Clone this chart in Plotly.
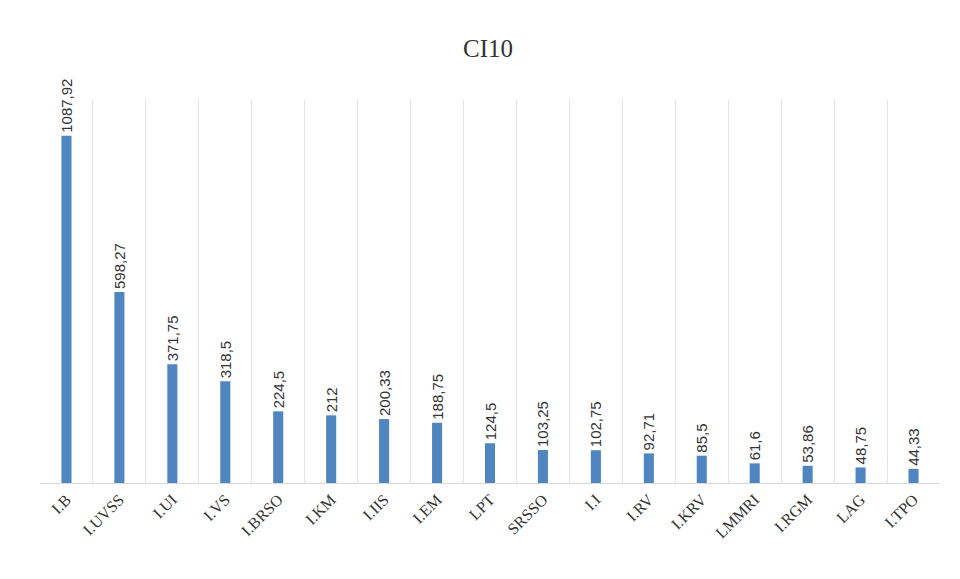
import plotly.graph_objects as go

categories = ["I.B", "I.UVSS", "I.UI", "I.VS", "I.BRSO", "I.KM", "I.IIS", "I.EM", "LPT",
              "SRSSO", "I.I", "I.RV", "I.KRV", "LMMRI", "I.RGM", "LAG", "I.TPO"]
values = [1087.92, 598.27, 371.75, 318.5, 224.5, 212, 200.33, 188.75, 124.5,
          103.25, 102.75, 92.71, 85.5, 61.6, 53.86, 48.75, 44.33]
value_labels = ["1087,92", "598,27", "371,75", "318,5", "224,5", "212", "200,33", "188,75", "124,5",
                "103,25", "102,75", "92,71", "85,5", "61,6", "53,86", "48,75", "44,33"]
title_text = "CI10"

fig = go.Figure(go.Bar(
    x=categories, y=values, width=0.19,
    marker=dict(color="#4F86BF", line=dict(width=0)),
    text=value_labels, textposition="outside", textangle=-90,
    textfont=dict(family="Liberation Sans, Arial", size=15, color="#333333"),
    cliponaxis=False,
))

fig.update_layout(
    width=960, height=579,
    paper_bgcolor="white", plot_bgcolor="white",
    margin=dict(l=32, r=28, t=92, b=104),
    title=dict(text=title_text, x=0.5, xanchor="center", y=0.931, yanchor="middle",
               font=dict(family="Liberation Serif, Times New Roman", size=25, color="#333333")),
    showlegend=False,
    bargap=0.8,
    uniformtext=dict(minsize=15, mode="show"),
)
fig.update_xaxes(
    tickson="boundaries", showgrid=True, gridcolor="#E4E4E4", gridwidth=1,
    ticks="", tickangle=-45,
    tickfont=dict(family="Liberation Serif, Times New Roman", size=16, color="#333333"),
    showline=True, linecolor="#D9D9D9", linewidth=1,
)
fig.update_yaxes(range=[0, 1200], visible=False, showgrid=False, zeroline=False)

fig.write_html("out.html")
